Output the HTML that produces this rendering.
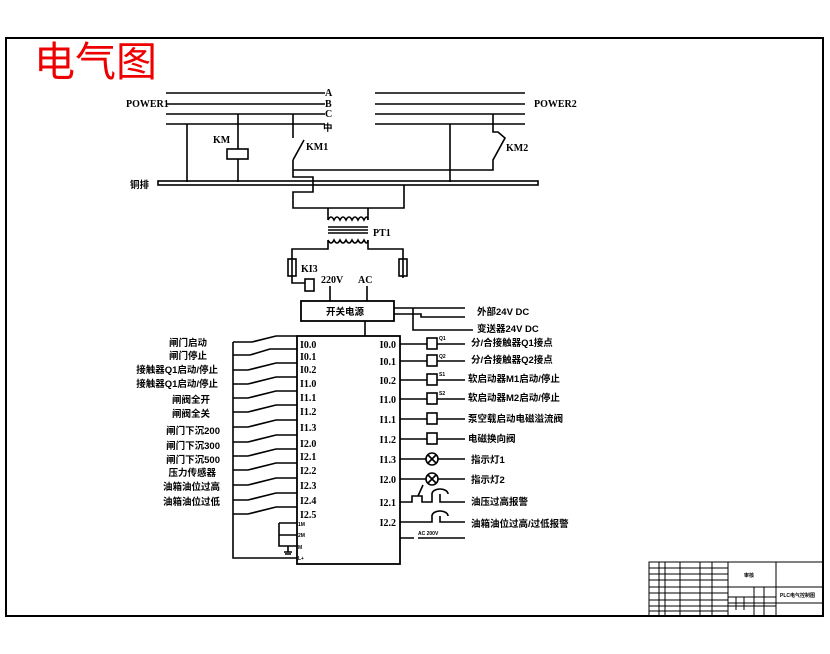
<!DOCTYPE html>
<html><head><meta charset="utf-8"><style>
body{margin:0;background:#fff;}
svg{display:block;}
.t{font-family:"Liberation Serif","Noto Sans CJK SC",serif;font-weight:bold;font-size:10px;fill:#000;}
.c{font-family:"Liberation Sans","Noto Sans CJK SC",sans-serif;font-weight:bold;font-size:9.5px;fill:#000;}
.s{font-family:"Liberation Sans","Noto Sans CJK SC",sans-serif;font-weight:bold;font-size:5px;fill:#000;}
</style></head><body>
<svg width="830" height="654" viewBox="0 0 830 654" xmlns="http://www.w3.org/2000/svg">
<g fill="none" stroke="#000" stroke-width="1.6">
<rect x="6" y="38" width="817" height="578" stroke-width="2"/>
<path d="M166 93H325M166 104H325M166 114H325M166 124H325"/>
<path d="M375 93H525M375 104H525M375 114H525M375 124H525"/>
<path d="M187 124V182M238 114V149M238 159V182M450 124V182"/>
<rect x="227" y="149" width="21" height="10"/>
<path d="M293 114V138M293 160V177H313V192H293V208H404V185"/>
<path d="M293 160L304 140"/>
<path d="M293 170H493V160L505 138L498 132H493V114"/>
<rect x="158" y="181" width="380" height="4"/>
<path d="M328 208V220M368 208V220"/>
<path d="M328 220q3-6 6 0q3-6 6 0q3-6 6 0q3-6 6 0q3-6 6 0q3-6 6 0q3-6 4 0"/>
<path d="M328 227H368M328 230H368M328 233H368" stroke-width="1.6"/>
<path d="M328 240q3 6 6 0q3 6 6 0q3 6 6 0q3 6 6 0q3 6 6 0q3 6 6 0q3 6 4 0"/>
<path d="M328 240V249H292V283H305M368 240V249H403V278"/>
<rect x="288" y="259" width="8" height="17"/><rect x="399" y="259" width="8" height="17"/>
<rect x="305" y="279" width="9" height="12"/>
<path d="M330 286V301M367 286V301"/>
<rect x="301" y="301" width="93" height="20" stroke-width="1.8"/>
<path d="M394 308H465M413 308V330H473M394 314H421V317H465M365 321V336"/>
<rect x="297" y="336" width="103" height="228" stroke-width="1.8"/>
<path d="M233 342V558H297"/>
<path d="M233 342H252M233 355H250M233 370H248M233 384H248M233 398H248M233 412H248M233 427H248M233 442H248M233 456H248M233 470H248M233 485H248M233 500H248M233 514H248"/>
<path d="M252 342L276 336H297M250 355L270 349H297M248 370L276 363H297M248 384L276 377H297M248 398L276 391H297M248 412L276 405H297M248 427L276 420H297M248 442L276 435H297M248 456L276 449H297M248 470L276 463H297M248 485L276 478H297M248 500L276 493H297M248 514L276 507H297"/>
<path d="M279 523H297M279 523V546H297M279 535H297M288 546V552M284 552H292M285 554H291"/>
<path d="M400 344H427M437 344H465M400 361H427M437 361H465M400 380H427M437 380H465M400 399H427M437 399H465M400 419H427M437 419H465M400 439H427M437 439H465"/>
<rect x="427" y="338" width="10" height="11"/><rect x="427" y="355" width="10" height="11"/><rect x="427" y="374" width="10" height="11"/><rect x="427" y="393" width="10" height="11"/><rect x="427" y="413" width="10" height="11"/><rect x="427" y="433" width="10" height="11"/>
<path d="M400 459H426M438 459H465M400 479H426M438 479H465"/>
<circle cx="432" cy="459" r="6"/><circle cx="432" cy="479" r="6"/>
<path d="M428 455l8 8M436 455l-8 8M428 475l8 8M436 475l-8 8"/>
<path d="M400 502H412V496H422V502H432V494M432 494a8 5 0 0 1 16 0M440 494V502H465M418 496L423 485"/>
<path d="M400 522H432V516M432 516a8 5 0 0 1 16 0M440 516V522H465"/>
<path d="M400 538H414M418 538H465"/>
<g stroke-width="1">
<rect x="649" y="562" width="174" height="54"/>
<path d="M649 568H728M649 574H728M649 580H728M649 587H776M649 593H728M649 600H728M649 606H776M649 611H728"/>
<path d="M659 562V616M665 562V616M680 562V616M700 562V616M712 562V616M728 562V616M776 562V616M776 587H823M776 603H823"/>
<path d="M728 597H776M728 603H776M754 587V616M764 587V616M736 597V610M744 597V610"/>
</g>
</g>
<text x="34" y="76" font-family="'Noto Sans CJK SC',sans-serif" font-size="41" fill="#e00">电气图</text>
<text class="t" x="126" y="107">POWER1</text>
<text class="t" x="534" y="107">POWER2</text>
<text class="t" x="325" y="96">A</text><text class="t" x="325" y="107">B</text><text class="t" x="325" y="117">C</text><text class="c" x="323" y="131">中</text>
<text class="t" x="213" y="143">KM</text><text class="t" x="306" y="150">KM1</text><text class="t" x="506" y="151">KM2</text>
<text class="c" x="130" y="188">铜排</text>
<text class="t" x="373" y="236">PT1</text>
<text class="t" x="301" y="272">KI3</text>
<text class="t" x="321" y="283">220V</text><text class="t" x="358" y="283">AC</text>
<text class="c" x="326" y="315">开关电源</text>
<text class="c" x="477" y="315">外部24V DC</text>
<text class="c" x="477" y="332">变送器24V DC</text>
<g class="t">
<text x="300" y="348">I0.0</text><text x="300" y="360">I0.1</text><text x="300" y="373">I0.2</text><text x="300" y="387">I1.0</text><text x="300" y="401">I1.1</text><text x="300" y="415">I1.2</text><text x="300" y="431">I1.3</text><text x="300" y="447">I2.0</text><text x="300" y="460">I2.1</text><text x="300" y="474">I2.2</text><text x="300" y="489">I2.3</text><text x="300" y="504">I2.4</text><text x="300" y="518">I2.5</text>
</g>
<g class="t" text-anchor="end">
<text x="396" y="348">I0.0</text><text x="396" y="365">I0.1</text><text x="396" y="384">I0.2</text><text x="396" y="403">I1.0</text><text x="396" y="423">I1.1</text><text x="396" y="443">I1.2</text><text x="396" y="463">I1.3</text><text x="396" y="483">I2.0</text><text x="396" y="506">I2.1</text><text x="396" y="526">I2.2</text>
</g>
<g class="c" text-anchor="end">
<text x="207" y="346">闸门启动</text><text x="207" y="359">闸门停止</text><text x="218" y="373">接触器Q1启动/停止</text><text x="218" y="387">接触器Q1启动/停止</text><text x="210" y="403">闸阀全开</text><text x="210" y="417">闸阀全关</text><text x="220" y="434">闸门下沉200</text><text x="220" y="449">闸门下沉300</text><text x="220" y="463">闸门下沉500</text><text x="216" y="476">压力传感器</text><text x="220" y="490">油箱油位过高</text><text x="220" y="505">油箱油位过低</text>
</g>
<g class="c">
<text x="471" y="346">分/合接触器Q1接点</text><text x="471" y="363">分/合接触器Q2接点</text><text x="468" y="382">软启动器M1启动/停止</text><text x="468" y="401">软启动器M2启动/停止</text><text x="468" y="422">泵空载启动电磁溢流阀</text><text x="468" y="442">电磁换向阀</text><text x="471" y="463">指示灯1</text><text x="471" y="483">指示灯2</text><text x="471" y="505">油压过高报警</text><text x="471" y="527">油箱油位过高/过低报警</text>
</g>
<g class="s">
<text x="439" y="340">Q1</text><text x="439" y="358">Q2</text><text x="439" y="376">S1</text><text x="439" y="395">S2</text>
<text x="298" y="526">1M</text><text x="298" y="537">2M</text><text x="298" y="549">M</text><text x="298" y="560">L+</text>
<text x="418" y="535">AC 200V</text>
<text x="744" y="577">审核</text><text x="780" y="597">PLC电气控制图</text>
</g>
</svg>
</body></html>
